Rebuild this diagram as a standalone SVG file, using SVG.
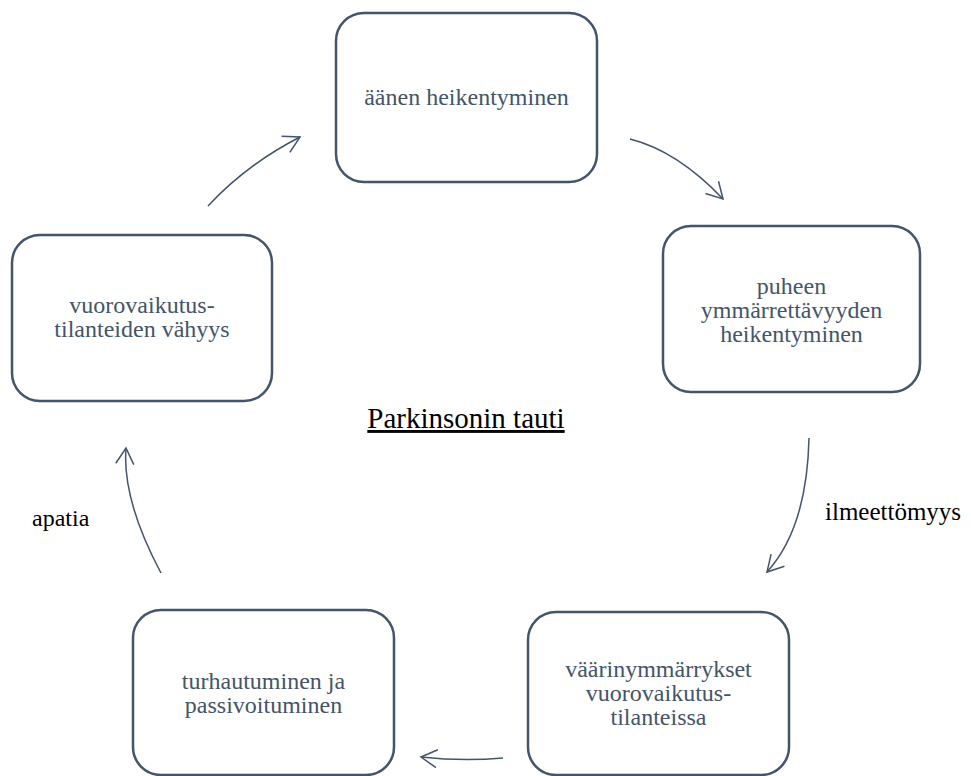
<svg xmlns="http://www.w3.org/2000/svg" width="971" height="776" viewBox="0 0 971 776">
<style>
.box{fill:#ffffff;stroke:#44546A;stroke-width:2.5}
.bt{font-family:'Liberation Serif','Times New Roman','DejaVu Serif','Noto Serif',serif;font-size:24px;fill:#44546A;text-anchor:middle}
.lbl{font-family:'Liberation Serif','Times New Roman','DejaVu Serif','Noto Serif',serif;fill:#000000}
.con{fill:none;stroke:#44546A;stroke-width:1.5;marker-end:url(#ah)}
</style>
<defs>
<marker id="ah" markerUnits="userSpaceOnUse" markerWidth="40" markerHeight="40" viewBox="-20 -20 40 40" refX="0" refY="0" orient="auto" overflow="visible">
<path d="M -16 -9 L 0 0 L -16 9" fill="none" stroke="#44546A" stroke-width="1.5"/>
</marker>
</defs>
<rect width="971" height="776" fill="#ffffff"/>
<g id="n1">
<rect class="box" x="336" y="13" width="261" height="169" rx="28"/>
<text class="bt" x="466.5" y="105">äänen heikentyminen</text>
</g>
<g id="n2">
<rect class="box" x="663" y="226" width="257" height="166" rx="28"/>
<text class="bt" x="791.5" y="294">puheen</text>
<text class="bt" x="791.5" y="318">ymmärrettävyyden</text>
<text class="bt" x="791.5" y="342">heikentyminen</text>
</g>
<g id="n3">
<rect class="box" x="528" y="612" width="261" height="163" rx="28"/>
<text class="bt" x="658.5" y="677">väärinymmärrykset</text>
<text class="bt" x="658.5" y="701">vuorovaikutus-</text>
<text class="bt" x="658.5" y="725">tilanteissa</text>
</g>
<g id="n4">
<rect class="box" x="133" y="610" width="261" height="165" rx="28"/>
<text class="bt" x="263.5" y="689">turhautuminen ja</text>
<text class="bt" x="263.5" y="713">passivoituminen</text>
</g>
<g id="n5">
<rect class="box" x="12" y="235" width="260" height="166" rx="28"/>
<text class="bt" x="142" y="313">vuorovaikutus-</text>
<text class="bt" x="142" y="337">tilanteiden vähyys</text>
</g>
<g id="center">
<text class="lbl" x="466" y="428" font-size="29" text-anchor="middle" text-decoration="underline">Parkinsonin tauti</text>
</g>
<g id="connectors">
<path class="con" d="M 208 206 Q 246.5 164.5 300 137"/>
<path class="con" d="M 630 139 Q 677.5 151 723 199"/>
<path class="con" d="M 809 438 Q 807 528 767 572"/>
<path class="con" d="M 503 758 Q 462 761.5 421 757"/>
<path class="con" d="M 161 573 Q 122 500 126 448"/>
<text class="lbl" x="825" y="520" font-size="25">ilmeettömyys</text>
<text class="lbl" x="32" y="526" font-size="24">apatia</text>
</g>
</svg>
